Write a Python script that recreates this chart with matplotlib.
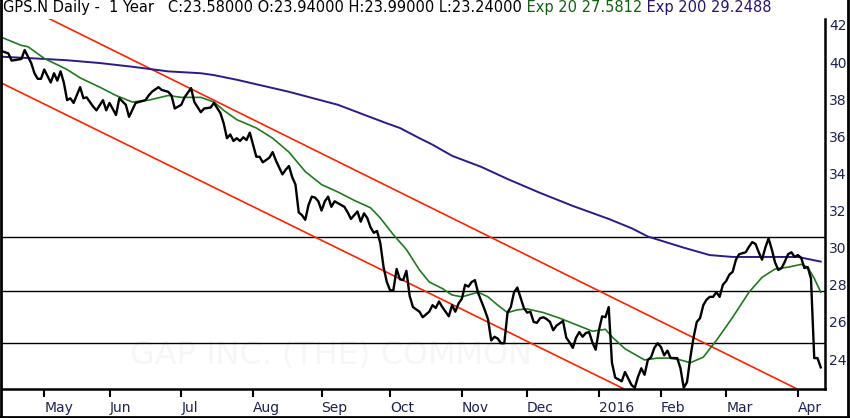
import numpy as np
import pandas as pd
import matplotlib
matplotlib.use("Agg")
import matplotlib.pyplot as plt
from matplotlib.lines import Line2D

# Daily closes of GPS.N, x = trading session counted from 1 May 2015 (= 0)
price_day = [-14, -11, -10, -7, -6, -4, -3, -2, -1, 0, 2, 3, 4, 5, 6, 7, 8, 9, 11, 12,
             13, 15, 16, 18, 19, 20, 22, 23, 25, 26, 28, 29, 31, 32, 33, 35, 36, 38, 39, 40,
             42, 43, 45, 46, 48, 49, 51, 52, 54, 55, 56, 57, 58, 59, 60, 61, 62, 63, 64, 65,
             66, 67, 69, 70, 71, 73, 74, 75, 76, 77, 78, 79, 80, 81, 82, 83, 84, 85, 86, 87,
             88, 89, 91, 92, 93, 94, 95, 96, 97, 98, 99, 100, 101, 102, 103, 104, 105, 106, 107, 108,
             109, 110, 111, 112, 113, 115, 116, 118, 119, 120, 121, 122, 124, 125, 126, 127, 128, 129, 130, 131,
             132, 133, 134, 135, 136, 137, 138, 139, 140, 141, 142, 143, 144, 145, 146, 147, 148, 149, 150, 151,
             152, 153, 154, 155, 156, 157, 159, 160, 161, 162, 163, 164, 165, 166, 167, 168, 169, 170, 171, 172,
             173, 174, 175, 176, 177, 178, 179, 180, 181, 182, 183, 184, 185, 186, 187, 188, 189, 190, 191, 192,
             193, 194, 195, 196, 197, 198, 199, 200, 201, 202, 203, 204, 205, 206, 207, 208, 209, 210, 211, 212,
             213, 215, 216, 217, 218, 219, 220, 221, 222, 223, 224, 225, 226, 227, 228, 229, 230, 231, 232, 233,
             234, 235, 236, 237, 238]
price_close = [40.65, 40.47, 40.08, 40.17, 40.65, 39.95, 39.4, 39.1, 39.1, 39.6, 38.9, 39.4, 39.0, 39.5, 38.9, 37.95, 38.05, 37.8, 38.65, 38.05,
               38.1, 37.6, 37.4, 37.95, 37.4, 37.8, 37.15, 38.05, 37.7, 37.05, 37.8, 37.85, 37.95, 38.2, 38.4, 38.65, 38.5, 38.4, 38.2, 37.5,
               37.7, 38.1, 38.6, 37.85, 37.3, 37.5, 37.55, 37.8, 37.25, 36.7, 35.9, 36.1, 35.75, 35.9, 35.75, 35.95, 35.8, 36.2, 35.55, 34.9,
               34.9, 34.6, 34.85, 35.15, 34.7, 33.95, 34.2, 34.4, 33.8, 33.4, 31.9, 31.75, 31.5, 32.3, 32.75, 32.7, 32.5, 32.0, 32.5, 32.75,
               32.2, 32.5, 32.3, 32.2, 31.9, 31.55, 31.75, 31.95, 31.4, 31.85, 31.6, 31.1, 30.8, 30.9, 30.25, 28.95, 28.15, 27.7, 27.7, 28.85,
               28.3, 28.25, 28.75, 27.4, 26.8, 26.55, 26.25, 26.55, 26.9, 26.75, 27.1, 26.8, 26.3, 26.9, 26.55, 27.0, 27.25, 28.0, 27.9, 28.15,
               28.25, 27.55, 27.1, 26.65, 26.15, 25.0, 25.2, 25.1, 24.85, 24.85, 26.5, 26.8, 27.6, 27.85, 27.3, 26.75, 26.5, 26.55, 26.0, 25.95,
               26.2, 26.25, 26.15, 26.0, 25.55, 25.8, 26.05, 25.15, 24.9, 24.6, 25.15, 25.45, 25.2, 25.4, 25.45, 24.9, 24.5, 25.55, 26.3, 26.25,
               26.8, 23.8, 23.0, 22.9, 22.8, 23.3, 22.95, 22.6, 22.45, 23.05, 23.5, 23.15, 23.95, 24.1, 24.6, 24.85, 24.65, 24.2, 24.45, 24.05,
               24.05, 24.05, 23.5, 22.45, 22.75, 24.05, 25.15, 26.0, 26.2, 26.9, 27.2, 27.35, 27.35, 27.6, 27.35, 28.0, 28.2, 28.55, 28.7, 29.35,
               29.65, 29.75, 30.05, 30.3, 30.2, 29.75, 29.35, 30.0, 30.5, 29.9, 29.2, 28.8, 28.9, 29.25, 29.65, 29.75, 29.5, 29.6, 29.45, 28.9,
               28.95, 28.35, 24.05, 24.05, 23.55]

ema20_day = [-14, -7, -5, 0, 7, 11, 17, 22, 27, 32, 38, 42, 48, 52, 55, 59, 65, 70, 75, 80,
             85, 90, 95, 100, 103, 107, 111, 115, 118, 122, 125, 128, 131, 133, 136, 139, 142, 145, 148, 153,
             158, 163, 168, 172, 174, 178, 184, 188, 192, 195, 198, 202, 206, 211, 216, 220, 224, 228, 232, 234,
             236, 238]
ema20_val = [41.4, 40.9, 40.83, 40.2, 39.6, 39.15, 38.65, 38.2, 37.85, 37.95, 38.2, 38.1, 38.1, 37.85, 37.4, 36.9, 36.45, 35.9, 35.15, 34.1,
             33.4, 33.0, 32.55, 32.15, 31.6, 30.7, 29.9, 28.8, 28.15, 27.8, 27.45, 27.35, 27.5, 27.6, 27.35, 26.9, 26.5, 26.65, 26.7, 26.5,
             26.2, 25.85, 25.5, 25.6, 25.2, 24.55, 23.95, 24.05, 24.05, 23.95, 23.8, 24.1, 25.0, 26.25, 27.6, 28.4, 28.85, 28.95, 29.1, 28.95,
             28.35, 27.6]

ema200_day = [-14, -3, 7, 17, 27, 38, 48, 52, 59, 75, 90, 105, 109, 115, 119, 125, 134, 142, 152, 162,
              173, 180, 185, 196, 204, 211, 221, 231, 238]
ema200_val = [40.3, 40.2, 40.1, 39.95, 39.75, 39.5, 39.4, 39.3, 39.05, 38.4, 37.7, 36.7, 36.45, 35.9, 35.55, 34.95, 34.35, 33.7, 32.95, 32.25,
              31.55, 31.05, 30.6, 30.0, 29.6, 29.5, 29.5, 29.5, 29.25]

# trend channel, two points per line (session, price)
upper_channel = [(2, 42.3), (230, 22.45)]
lower_channel = [(-14, 38.95), (177, 22.45)]
levels = [30.58, 27.67, 24.86]
y_ticks = list(range(24, 43, 2))

holidays = ['2015-05-25', '2015-07-03', '2015-09-07', '2015-11-26', '2015-12-25',
            '2016-01-01', '2016-01-18', '2016-02-15', '2016-03-25']

# trading calendar -> month ticks
sessions = pd.bdate_range('2015-04-01', '2016-04-29')
sessions = sessions[~sessions.isin(pd.to_datetime(holidays))]
zero = sessions.get_loc(pd.Timestamp('2015-05-01'))
offsets = np.arange(len(sessions)) - zero
months = sessions.to_period('M')
is_first = np.r_[True, months[1:] != months[:-1]]
tick_pos, tick_lab = [], []
for off, d, f in zip(offsets, sessions, is_first):
    if f and 0 <= off <= 235:
        tick_pos.append(off)
        tick_lab.append(str(d.year) if d.month == 1 else d.strftime('%b'))

NAVY = '#1c2250'
fig = plt.figure(figsize=(8.5, 4.18), dpi=100)
ax = fig.add_axes([2 / 850, 29.3 / 418, 823 / 850, 370.2 / 418])

ax.text(0.40, 0.09, 'GAP INC. (THE) COMMON', transform=ax.transAxes, ha='center', va='center',
        fontsize=23, color='#f6f6f6', zorder=0)

for lv in levels:
    ax.axhline(lv, color='black', lw=1.0, zorder=1)
ax.axline(upper_channel[0], upper_channel[1], color='#ff2200', lw=1.2, zorder=2)
ax.axline(lower_channel[0], lower_channel[1], color='#ff2200', lw=1.2, zorder=2)

ax.plot(ema200_day, ema200_val, color='#2b1a8c', lw=1.4, zorder=3)
ax.plot(ema20_day, ema20_val, color='#1f7a1f', lw=1.2, zorder=3)
ax.plot(price_day, price_close, color='black', lw=1.7, zorder=4, solid_joinstyle='round')

ax.set_xlim(-12.95, 239.3)
ax.set_ylim(22.40, 42.35)

for s in ['top', 'left']:
    ax.spines[s].set_visible(False)
for s in ['right', 'bottom']:
    ax.spines[s].set_linewidth(1.8)

ax.set_xticks(tick_pos)
ax.set_xticklabels(tick_lab, ha='left', color=NAVY, fontsize=10)
ax.tick_params(axis='x', direction='out', length=5.5, width=1.5, pad=3.5)
ax.yaxis.tick_right()
ax.set_yticks(y_ticks)
ax.set_yticklabels([str(v) for v in y_ticks], color=NAVY, fontsize=10)
ax.tick_params(axis='y', length=0, pad=3)

# header line
t1 = fig.text(3 / 850, 1 - 12 / 418, 'GPS.N Daily -  1 Year   C:23.58000 O:23.94000 H:23.99000 L:23.24000',
              fontsize=10.5, color='black', va='baseline')
t2 = ax.annotate(' Exp 20 27.5812', xy=(1, 0), xycoords=t1, va='bottom', ha='left',
                 fontsize=10.5, color='#106010', annotation_clip=False)
ax.annotate(' Exp 200 29.2488', xy=(1, 0), xycoords=t2, va='bottom', ha='left',
            fontsize=10.5, color='#2a1070', annotation_clip=False)

# outer frame
for xs, ys in [([0.001, 0.001], [0, 1]), ([0, 1], [0.002, 0.002]), ([0.998, 0.998], [0, 1])]:
    fig.add_artist(Line2D(xs, ys, transform=fig.transFigure, color='black', lw=2))

fig.savefig('out.png', dpi=100)
